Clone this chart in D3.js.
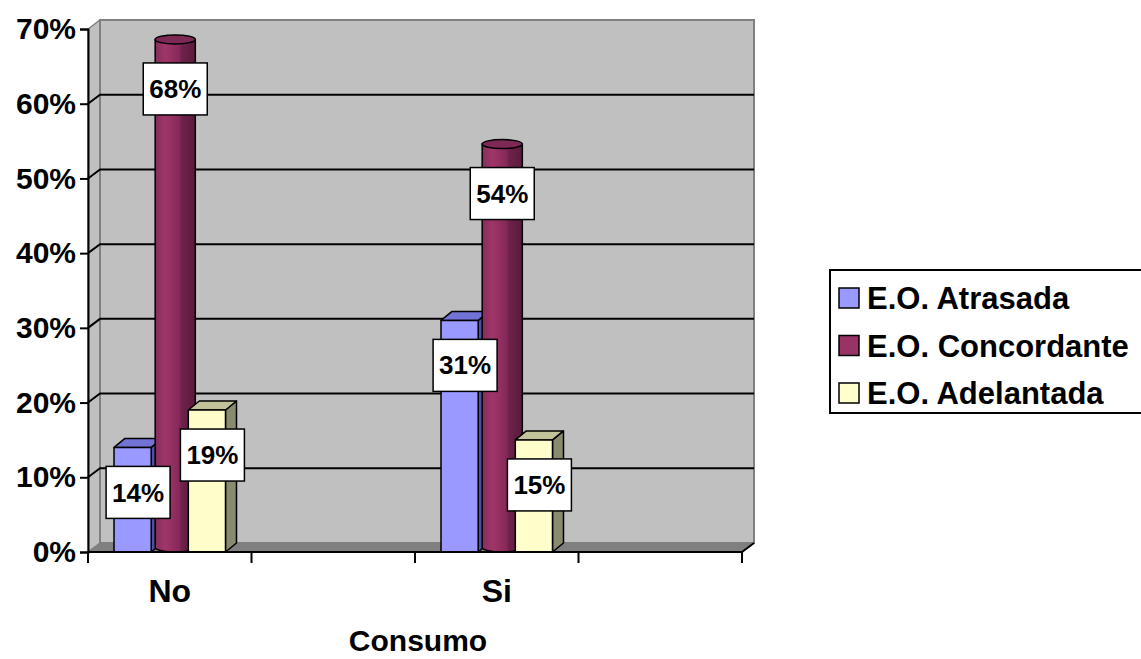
<!DOCTYPE html>
<html>
<head>
<meta charset="utf-8">
<script src="https://cdn.jsdelivr.net/npm/d3@7"></script>
<style>
  body { margin: 0; background: #fff; }
  text { font-family: Arial, "Liberation Sans", sans-serif; font-weight: bold; }
</style>
</head>
<body>
<div id="chart"></div>
<script>
// Chart data
const categories = ["No", "", "Si", ""];
const seriesNames = ["E.O. Atrasada", "E.O. Concordante", "E.O. Adelantada"];
const atrasada = [0.14, null, 0.31, null];
const concordante = [0.68, null, 0.54, null];
const adelantada = [0.19, null, 0.15, null];
const yTicks = [0, 0.1, 0.2, 0.3, 0.4, 0.5, 0.6, 0.7];
const xTitle = "Consumo";

document.addEventListener("DOMContentLoaded", () => {
  createConsumoChart();
});

function createConsumoChart() {
  const width = 1141,
    height = 659;
  const wall = { dx: 12, dy: -9 }; // depth of the back wall
  const bar = { dx: 11, dy: -9 }; // depth of each column

  const svg = d3
    .select("#chart")
    .append("svg")
    .attr("width", width)
    .attr("height", height);

  // Scales
  const x = d3.scaleBand().domain(d3.range(categories.length)).range([88, 742]);
  const x1 = d3
    .scaleBand()
    .domain(seriesNames)
    .range([0, x.bandwidth()])
    .paddingInner(0)
    .paddingOuter(0.7);
  const y = d3.scaleLinear().domain([0, 0.7]).range([552, 29]);

  const x0 = x.range()[0],
    x1End = x.range()[1],
    y0 = y(0),
    yTop = y(0.7);

  // Side wall (left)
  svg
    .append("path")
    .attr(
      "d",
      `M${x0},${y0} L${x0},${yTop} L${x0 + wall.dx},${yTop + wall.dy} L${x0 + wall.dx},${y0 + wall.dy} Z`
    )
    .attr("fill", "#c0c0c0")
    .attr("stroke", "#808080")
    .attr("stroke-width", 1.5);

  // Back wall
  svg
    .append("rect")
    .attr("x", x0 + wall.dx)
    .attr("y", yTop + wall.dy)
    .attr("width", x1End - x0)
    .attr("height", y0 - yTop)
    .attr("fill", "#c0c0c0")
    .attr("stroke", "#808080")
    .attr("stroke-width", 2);

  // Floor
  svg
    .append("path")
    .attr(
      "d",
      `M${x0},${y0} L${x1End},${y0} L${x1End + wall.dx},${y0 + wall.dy} L${x0 + wall.dx},${y0 + wall.dy} Z`
    )
    .attr("fill", "#808080")
    .attr("stroke", "#808080");
  svg
    .append("line")
    .attr("x1", x1End)
    .attr("y1", y0)
    .attr("x2", x1End + wall.dx)
    .attr("y2", y0 + wall.dy)
    .attr("stroke", "#000")
    .attr("stroke-width", 2);

  // Gridlines on the back wall and side wall
  const grid = yTicks.filter((d) => d > 0 && d < 0.7);
  svg
    .selectAll(".grid")
    .data(grid)
    .enter()
    .append("path")
    .attr("class", "grid")
    .attr(
      "d",
      (d) =>
        `M${x0},${y(d)} L${x0 + wall.dx},${y(d) + wall.dy} L${x1End + wall.dx},${y(d) + wall.dy}`
    )
    .attr("fill", "none")
    .attr("stroke", "#000")
    .attr("stroke-width", 2);

  // Gradient for the cylinders
  const grad = svg
    .append("defs")
    .append("linearGradient")
    .attr("id", "cyl")
    .attr("x1", "0%")
    .attr("x2", "100%");
  [
    [0, "#862c5c"],
    [0.25, "#a03669"],
    [0.6, "#87295b"],
    [0.66, "#6e2249"],
    [1, "#5a1b3d"],
  ].forEach(([o, c]) => grad.append("stop").attr("offset", o).attr("stop-color", c));

  const boxes = [
    { name: seriesNames[0], values: atrasada, front: "#9999ff", top: "#7373d6", side: "#5050a0" },
    { name: seriesNames[2], values: adelantada, front: "#ffffcc", top: "#c2c29b", side: "#8a8a6e" },
  ];

  const labels = [];

  categories.forEach((cat, i) => {
    // Blue column
    drawBox(boxes[0], i);

    // Maroon cylinder
    const v = concordante[i];
    if (v != null) {
      const cx = x(i) + x1(seriesNames[1]) + x1.bandwidth() / 2 + bar.dx / 2;
      const rx = x1.bandwidth() / 2 + 1.5,
        ry = -bar.dy / 2;
      const topY = y(v) + bar.dy / 2,
        botY = y0 + bar.dy / 2;
      svg
        .append("path")
        .attr(
          "d",
          `M${cx - rx},${topY} L${cx - rx},${botY} A${rx},${ry} 0 0 0 ${cx + rx},${botY} L${cx + rx},${topY} Z`
        )
        .attr("fill", "url(#cyl)")
        .attr("stroke", "#000")
        .attr("stroke-width", 1.5);
      svg
        .append("ellipse")
        .attr("cx", cx)
        .attr("cy", topY)
        .attr("rx", rx)
        .attr("ry", ry)
        .attr("fill", "#7e2855")
        .attr("stroke", "#000")
        .attr("stroke-width", 1.5);
      labels.push({ v, cx });
    }

    // Yellow column
    drawBox(boxes[1], i);
  });

  function drawBox(s, i) {
    const v = s.values[i];
    if (v == null) return;
    const bx = x(i) + x1(s.name),
      bw = x1.bandwidth(),
      by = y(v);
    const g = svg.append("g").attr("stroke", "#000").attr("stroke-width", 1.5).attr("stroke-linejoin", "round");
    // side face
    g.append("path")
      .attr("d", `M${bx + bw},${by} L${bx + bw + bar.dx},${by + bar.dy} L${bx + bw + bar.dx},${y0 + bar.dy} L${bx + bw},${y0} Z`)
      .attr("fill", s.side);
    // top face
    g.append("path")
      .attr("d", `M${bx},${by} L${bx + bar.dx},${by + bar.dy} L${bx + bw + bar.dx},${by + bar.dy} L${bx + bw},${by} Z`)
      .attr("fill", s.top);
    // front face
    g.append("rect")
      .attr("x", bx)
      .attr("y", by)
      .attr("width", bw)
      .attr("height", y0 - by)
      .attr("fill", s.front);
    labels.push({ v, cx: bx + bw / 2 + bar.dx / 2 });
  }

  // Data labels
  labels.forEach((d) => {
    const g = svg.append("g").attr("transform", `translate(${d.cx},${y(d.v) + 45})`);
    g.append("rect")
      .attr("x", -32)
      .attr("y", -26)
      .attr("width", 64)
      .attr("height", 52)
      .attr("fill", "#fff")
      .attr("stroke", "#000")
      .attr("stroke-width", 1.5);
    g.append("text")
      .attr("text-anchor", "middle")
      .attr("dy", "0.35em")
      .style("font-size", "26px")
      .text(d3.format(".0%")(d.v));
  });

  // Y axis
  const yAxis = svg
    .append("g")
    .attr("transform", `translate(${x0},0)`)
    .call(d3.axisLeft(y).tickValues(yTicks).tickFormat(d3.format(".0%")).tickSize(8).tickPadding(4));
  yAxis.select(".domain").attr("stroke", "#000").attr("stroke-width", 2);
  yAxis.selectAll(".tick line").attr("stroke", "#000").attr("stroke-width", 2);
  yAxis
    .selectAll(".tick text")
    .style("font-size", "30px")
    .style("font-family", "Arial, 'Liberation Sans', sans-serif")
    .style("font-weight", "bold")
    .attr("fill", "#000");

  // X axis line, ticks at band edges
  svg
    .append("line")
    .attr("x1", x0)
    .attr("x2", x1End)
    .attr("y1", y0)
    .attr("y2", y0)
    .attr("stroke", "#000")
    .attr("stroke-width", 2);
  const edges = d3.range(categories.length).map((i) => x(i)).concat([x1End]);
  svg
    .selectAll(".xtick")
    .data(edges)
    .enter()
    .append("line")
    .attr("x1", (d) => d)
    .attr("x2", (d) => d)
    .attr("y1", y0)
    .attr("y2", y0 + 11)
    .attr("stroke", "#000")
    .attr("stroke-width", 2);
  svg
    .selectAll(".xlabel")
    .data(categories)
    .enter()
    .append("text")
    .attr("x", (d, i) => x(i) + x.bandwidth() / 2)
    .attr("y", 602)
    .attr("text-anchor", "middle")
    .style("font-size", "32px")
    .text((d) => d);

  // X axis title
  svg
    .append("text")
    .attr("x", 418)
    .attr("y", 651)
    .attr("text-anchor", "middle")
    .style("font-size", "30px")
    .text(xTitle);

  // Legend
  const legendColors = ["#9999ff", "#993366", "#ffffcc"];
  const legend = svg.append("g").attr("transform", "translate(830,270)");
  legend
    .append("rect")
    .attr("width", 320)
    .attr("height", 143)
    .attr("fill", "#fff")
    .attr("stroke", "#000")
    .attr("stroke-width", 2);
  const items = legend
    .selectAll(".item")
    .data(seriesNames)
    .enter()
    .append("g")
    .attr("transform", (d, i) => `translate(0,${28 + i * 47.5})`);
  items
    .append("rect")
    .attr("x", 9)
    .attr("y", -10)
    .attr("width", 20)
    .attr("height", 20)
    .attr("fill", (d, i) => legendColors[i])
    .attr("stroke", "#000")
    .attr("stroke-width", 1.5);
  items
    .append("text")
    .attr("x", 37)
    .attr("dy", "0.36em")
    .style("font-size", "31px")
    .text((d) => d);
}
</script>
</body>
</html>
